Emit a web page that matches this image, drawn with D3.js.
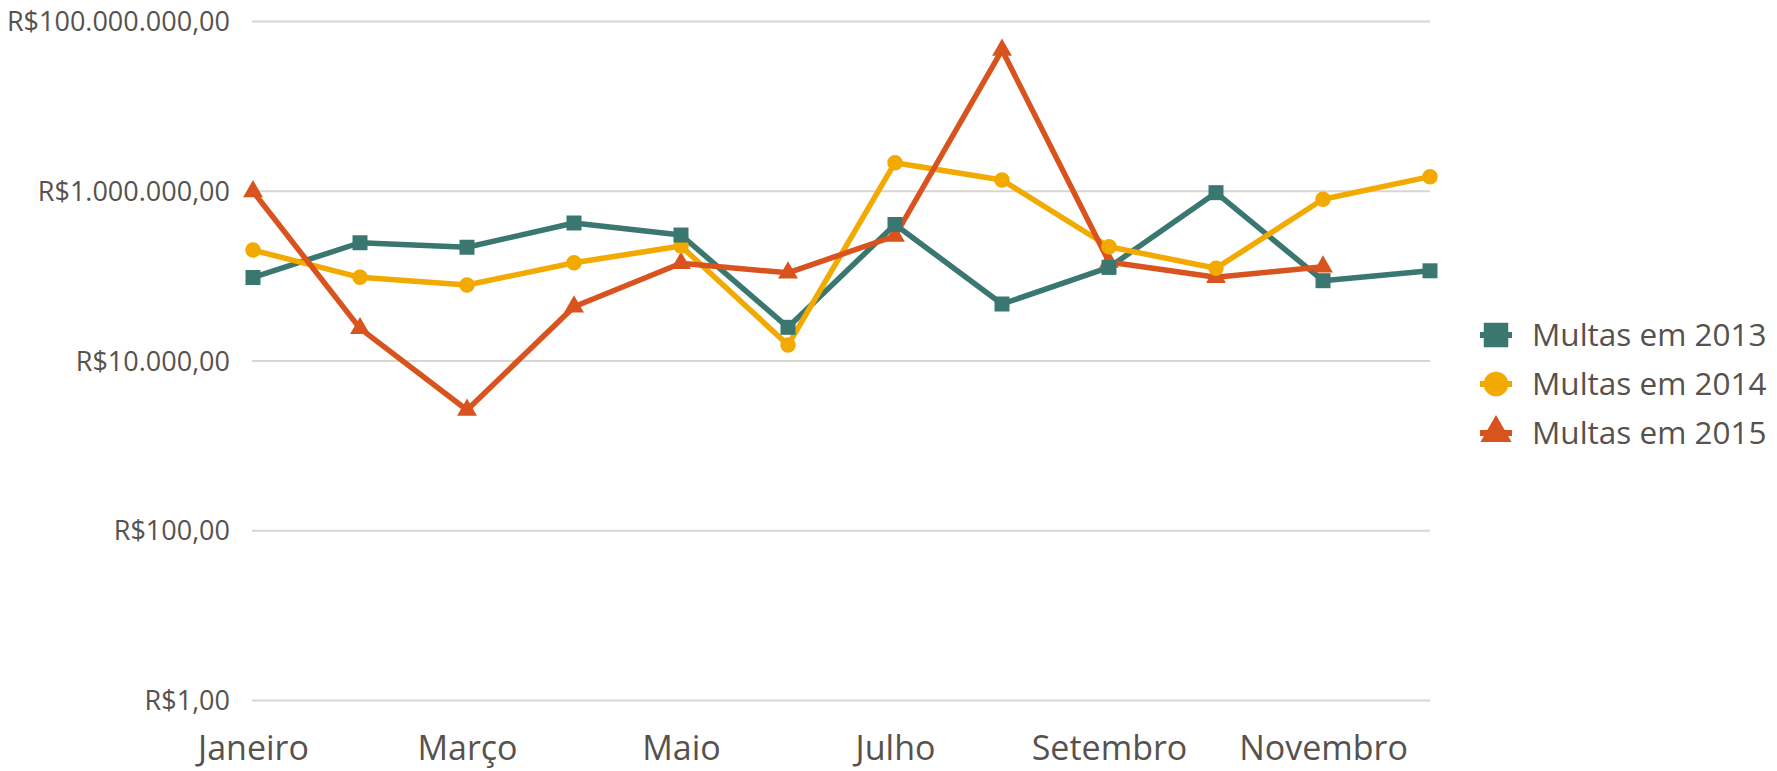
<!DOCTYPE html>
<html>
<head>
<meta charset="utf-8">
<script src="https://cdn.jsdelivr.net/npm/d3@7"></script>
<style>
    body { margin: 0; background: #fff; }
    text { font-family: "Open Sans", "Noto Sans", sans-serif; fill: #57524d; }
</style>
</head>
<body>
<div id="chart"></div>
<script>
var months = ["Janeiro", "Fevereiro", "Março", "Abril", "Maio", "Junho",
    "Julho", "Agosto", "Setembro", "Outubro", "Novembro", "Dezembro"];
var shownMonths = ["Janeiro", "Março", "Maio", "Julho", "Setembro", "Novembro"];
var yTicks = [1, 100, 10000, 1000000, 100000000];

var multas2013 = [95000, 244000, 216000, 417000, 301000, 24600, 400000, 46300, 125000, 949000, 87100, 114000];
var multas2014 = [200000, 95500, 77600, 142000, 223000, 15200, 2140000, 1340000, 219000, 122000, 793000, 1465000];
var multas2015 = [980000, 23900, 2610, 43000, 140000, 108000, 293000, 45500000, 145000, 95500, 127000, null];

var seriesNames = ["Multas em 2013", "Multas em 2014", "Multas em 2015"];
var seriesColors = ["#3a7771", "#f2a900", "#d9531e"];
var seriesShapes = [d3.symbolSquare, d3.symbolCircle, d3.symbolTriangle];

var width = 1777;
var height = 771;

var series = [multas2013, multas2014, multas2015].map(function (values, i) {
    return {
        name: seriesNames[i],
        color: seriesColors[i],
        shape: seriesShapes[i],
        points: values.map(function (v, j) { return { month: months[j], value: v }; })
            .filter(function (d) { return d.value != null; })
    };
});

var brl = d3.formatLocale({
    decimal: ",",
    thousands: ".",
    grouping: [3],
    currency: ["R$", ""]
}).format("$,.2f");

var x = d3.scalePoint().domain(months).range([253, 1430]);
var y = d3.scaleLog().domain([1, 1e8]).range([700, 21]);

var svg = d3.select("#chart")
    .append("svg")
    .attr("width", width)
    .attr("height", height);

// horizontal grid + y labels
var yAxis = svg.append("g")
    .attr("transform", "translate(252,0)")
    .call(d3.axisLeft(y).tickValues(yTicks).tickFormat(brl).tickSize(-1178).tickPadding(22));
yAxis.select(".domain").remove();
yAxis.selectAll("line").attr("stroke", "#d9d5cf").attr("stroke-width", 2);
yAxis.selectAll("text")
    .style("font-size", "27px")
    .attr("dy", "0.36em");

// x labels, only every other month
var xAxis = svg.append("g")
    .attr("transform", "translate(0,700)")
    .call(d3.axisBottom(x).tickValues(shownMonths).tickSize(0).tickPadding(0));
xAxis.select(".domain").remove();
xAxis.selectAll("text")
    .style("font-size", "34px")
    .attr("dy", null)
    .attr("y", 60);

var line = d3.line()
    .x(function (d) { return x(d.month); })
    .y(function (d) { return y(d.value); });

svg.append("g")
    .selectAll("path")
    .data(series)
    .join("path")
    .attr("d", function (d) { return line(d.points); })
    .attr("fill", "none")
    .attr("stroke", function (d) { return d.color; })
    .attr("stroke-width", 5.5)
    .attr("stroke-linejoin", "round");

var markerSize = [225, 190, 170];

svg.append("g")
    .selectAll("g")
    .data(series.slice().reverse())
    .join("g")
    .attr("fill", function (d) { return d.color; })
    .each(function (s) {
        var i = seriesNames.indexOf(s.name);
        d3.select(this).selectAll("path")
            .data(s.points)
            .join("path")
            .attr("transform", function (d) { return "translate(" + x(d.month) + "," + y(d.value) + ")"; })
            .attr("d", d3.symbol().type(s.shape).size(markerSize[i]));
    });

// legend
var legend = svg.append("g")
    .selectAll("g")
    .data(series)
    .join("g")
    .attr("transform", function (d, i) { return "translate(1496," + (335 + i * 49) + ")"; });

legend.append("line")
    .attr("x1", -16).attr("x2", 16)
    .attr("stroke", function (d) { return d.color; })
    .attr("stroke-width", 6);

legend.append("path")
    .attr("d", function (d, i) { return d3.symbol().type(d.shape).size([600, 480, 420][i])(); })
    .attr("fill", function (d) { return d.color; });

legend.append("text")
    .attr("x", 36)
    .attr("dy", "0.36em")
    .style("font-size", "31.5px")
    .text(function (d) { return d.name; });
</script>
</body>
</html>
